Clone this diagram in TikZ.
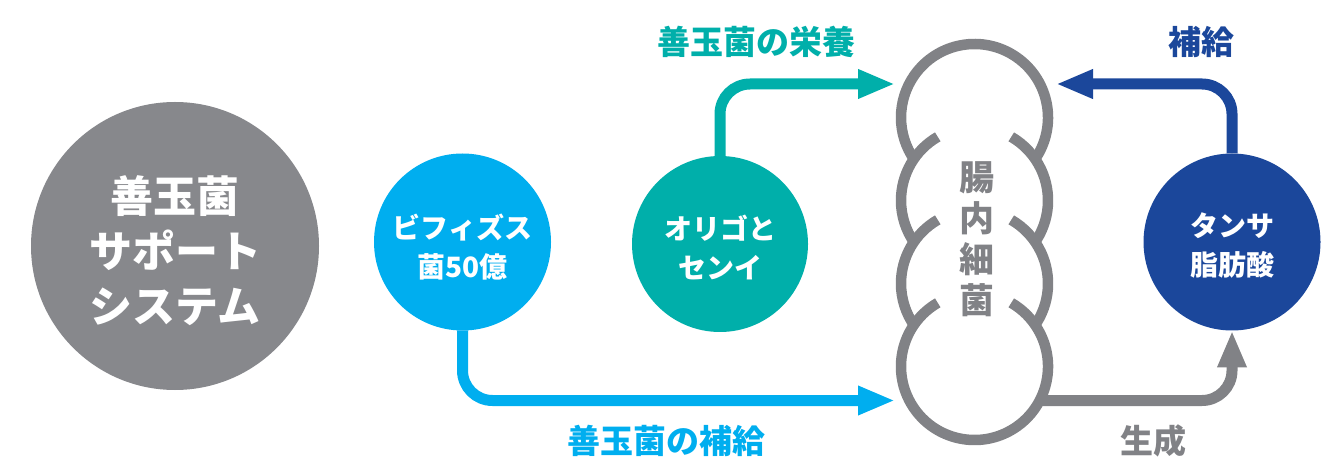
\documentclass[tikz,border=0pt]{standalone}
\usepackage{fontspec}
\newfontfamily\jp{Noto Sans CJK JP}
\usetikzlibrary{arrows.meta}
\definecolor{biggray}{HTML}{87888C}
\definecolor{gutgray}{HTML}{818286}
\definecolor{bifblue}{HTML}{00AEEF}
\definecolor{oliteal}{HTML}{00AFAA}
\definecolor{navyblue}{HTML}{1B479B}
\tikzset{
  disc/.style={circle,inner sep=0pt,outer sep=0pt,draw=none},
  intxt/.style={text=white,align=center,inner sep=0pt,font=\jp\bfseries\fontsize{28}{39}\selectfont},
  lbl/.style={inner sep=0pt,font=\jp\bfseries\fontsize{33}{40}\selectfont},
  flow/.style={line width=11pt,rounded corners=30pt,-{Triangle[length=37pt,width=27pt]}},
  gutline/.style={draw=gutgray,line width=10.5pt}
}
\begin{document}
\begin{tikzpicture}[x=1pt,y=1pt]
\useasboundingbox (0,0) rectangle (1337,463);
% big circle
\node[disc,fill=biggray,minimum size=288pt] (sys) at (175,217) {};
\node[text=white,align=center,inner sep=0pt,font=\jp\bfseries\fontsize{43}{55}\selectfont] (sysT) at (175,212.5) {善玉菌\\サポート\\システム};
% three circles
\node[disc,fill=bifblue,minimum size=177pt] (bif) at (462.5,221) {};
\node[intxt] (bifT) at (462.5,215.5) {ビフィズス\\菌50億};
\node[disc,fill=oliteal,minimum size=176pt] (oli) at (720,219) {};
\node[intxt] (oliT) at (720,215.5) {オリゴと\\センイ};
\node[disc,fill=navyblue,minimum size=177pt] (tan) at (1232,221) {};
\node[intxt] (tanT) at (1232,217.5) {タンサ\\脂肪酸};
% intestine
\def\R{73.5}
\draw[gutline] ([shift={(-35:\R)}]974.5,345.5) arc[start angle=-35,end angle=215,radius=\R];
\foreach \cy in {262.5,179.5}{
  \draw[gutline] ([shift={(120:\R)}]974.5,\cy) arc[start angle=120,end angle=215,radius=\R];
  \draw[gutline] ([shift={(-35:\R)}]974.5,\cy) arc[start angle=-35,end angle=60,radius=\R];
}
\draw[gutline] ([shift={(120:\R)}]974.5,96.5) arc[start angle=120,end angle=420,radius=\R];
\node[align=center,inner sep=0pt,text=gutgray,font=\jp\bfseries\fontsize{35}{41}\selectfont] (gutT) at (977,224) {腸\\内\\細\\菌};
% connector ends at the intestine
\coordinate (gutBL) at (895,62.5);
\coordinate (gutTL) at (895,379);
\coordinate (gutTR) at (1056,379);
\coordinate (gutBR) at (1040,62.5);
% arrows
\draw[flow,draw=bifblue] (bif.south) |- (gutBL);
\draw[flow,draw=oliteal] (oli.north) |- (gutTL);
\draw[flow,draw=navyblue] (tan.north) |- (gutTR);
\draw[flow,draw=gutgray] (gutBR) -| (tan.south);
% labels
\node[lbl,text=oliteal] (l1) at (756,421) {善玉菌の栄養};
\node[lbl,text=navyblue] (l2) at (1201,421) {補給};
\node[lbl,text=bifblue] (l3) at (666,22) {善玉菌の補給};
\node[lbl,text=gutgray] (l4) at (1153,22) {生成};
\end{tikzpicture}
\end{document}
